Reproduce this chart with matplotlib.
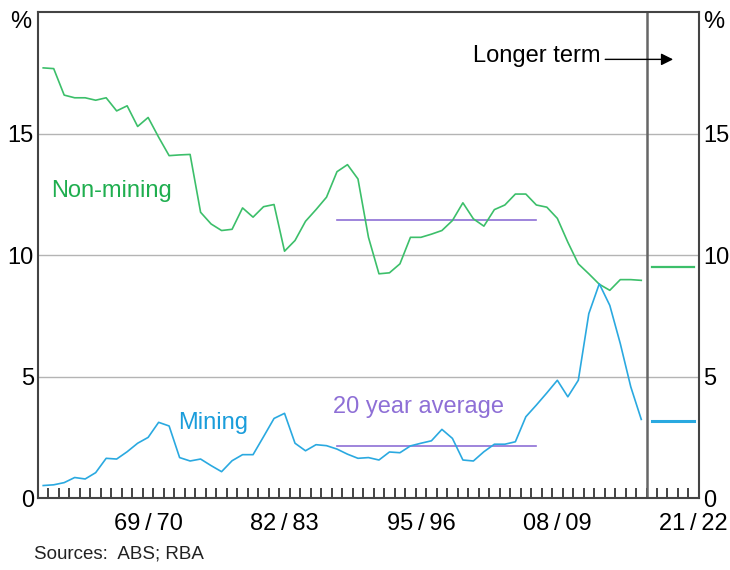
import numpy as np
import matplotlib
matplotlib.use("Agg")
import matplotlib.pyplot as plt

plt.rcParams['font.family'] = ['Liberation Sans', 'DejaVu Sans']

# Data (fiscal year ending)
years = np.arange(1960, 2018)

non_mining = [17.70, 17.67, 16.58, 16.47, 16.47, 16.37, 16.47, 15.93, 16.14, 15.29,
              15.66, 14.85, 14.09, 14.12, 14.14, 11.76, 11.28, 11.01, 11.06, 11.94,
              11.56, 11.99, 12.08, 10.16, 10.60, 11.39, 11.87, 12.38, 13.43, 13.72,
              13.13, 10.73, 9.23, 9.27, 9.64, 10.73, 10.73, 10.86, 11.01, 11.42,
              12.15, 11.49, 11.19, 11.87, 12.06, 12.51, 12.51, 12.06, 11.97, 11.51,
              10.53, 9.64, 9.23, 8.80, 8.55, 8.99, 8.99, 8.96]

mining = [0.52, 0.55, 0.64, 0.85, 0.79, 1.05, 1.64, 1.61, 1.91, 2.26,
          2.50, 3.12, 2.97, 1.67, 1.53, 1.61, 1.34, 1.09, 1.54, 1.79,
          1.79, 2.53, 3.28, 3.49, 2.26, 1.95, 2.20, 2.16, 2.02, 1.81,
          1.64, 1.67, 1.57, 1.90, 1.87, 2.15, 2.26, 2.36, 2.83, 2.46,
          1.57, 1.53, 1.91, 2.22, 2.22, 2.32, 3.35, 3.83, 4.33, 4.85,
          4.17, 4.85, 7.59, 8.82, 7.93, 6.36, 4.58, 3.24]

# 20 year averages
avg_years = [1988, 2007]
avg_non_mining = 11.45
avg_mining = 2.14

# Longer term assumptions
lt_years = [2018, 2022]
lt_non_mining = 9.52
lt_mining = 3.17

tick_years = [1970, 1983, 1996, 2009, 2022]
tick_labels = ['69\u2009/\u200970', '82\u2009/\u200983', '95\u2009/\u200996',
               '08\u2009/\u200909', '21\u2009/\u200922']

green = '#3cbf6a'
blue = '#2aa9e0'
purple = '#8e6fd6'
fs = 17

fig = plt.figure(figsize=(7.3, 5.7), dpi=100)
ax = fig.add_axes([0.052, 0.126, 0.9055, 0.853])

ax.set_xlim(1959.5, 2022.5)
ax.set_ylim(0, 20)

for y in [5, 10, 15]:
    ax.axhline(y, color='#b4b4b4', lw=1, zorder=1)

ax.plot(years, non_mining, color=green, lw=1.2, zorder=3)
ax.plot(years, mining, color=blue, lw=1.2, zorder=3)

ax.plot(avg_years, [avg_non_mining] * 2, color=purple, lw=1.2, zorder=2)
ax.plot(avg_years, [avg_mining] * 2, color=purple, lw=1.2, zorder=2)

ax.plot(lt_years, [lt_non_mining] * 2, color=green, lw=1.6, zorder=3)
ax.plot(lt_years, [lt_mining] * 2, color=blue, lw=2.2, zorder=3)

ax.axvline(2017.5, color='#666666', lw=1.8, zorder=2)

# axes styling
for s in ax.spines.values():
    s.set_color('#444444')
    s.set_linewidth(1.5)

ax.set_yticks([0, 5, 10, 15])
ax.set_yticklabels(['0', '5', '10', '15'])
ax.tick_params(axis='y', length=0, labelsize=fs, labelleft=True, labelright=True, pad=3)

ax.set_xticks(tick_years)
ax.set_xticklabels(tick_labels)
ax.set_xticks(np.arange(1960.5, 2022, 1), minor=True)
ax.tick_params(axis='x', which='major', length=0, labelsize=fs, pad=11)
ax.tick_params(axis='x', which='minor', direction='in', length=7, width=1.2, color='#222222')

fig.text(0.028, 0.962, '%', fontsize=fs, ha='center', va='center')
fig.text(0.977, 0.962, '%', fontsize=fs, ha='center', va='center')

ax.text(1960.8, 12.65, 'Non-mining', color='#1fae4f', fontsize=fs, va='center')
ax.text(1972.9, 3.1, 'Mining', color='#1a9ddb', fontsize=fs, va='center')
ax.text(1987.6, 3.76, '20 year average', color=purple, fontsize=fs, va='center')
ax.text(2013.1, 18.2, 'Longer term', color='black', fontsize=fs, va='center', ha='right')
ax.annotate('', xy=(2020.3, 18.05), xytext=(2013.3, 18.05),
            arrowprops=dict(arrowstyle='-|>', color='black', lw=1, mutation_scale=18))

fig.text(0.047, 0.014, 'Sources:  ABS; RBA', fontsize=13.5, color='#222222', va='bottom')

fig.savefig('out.png', dpi=100)
